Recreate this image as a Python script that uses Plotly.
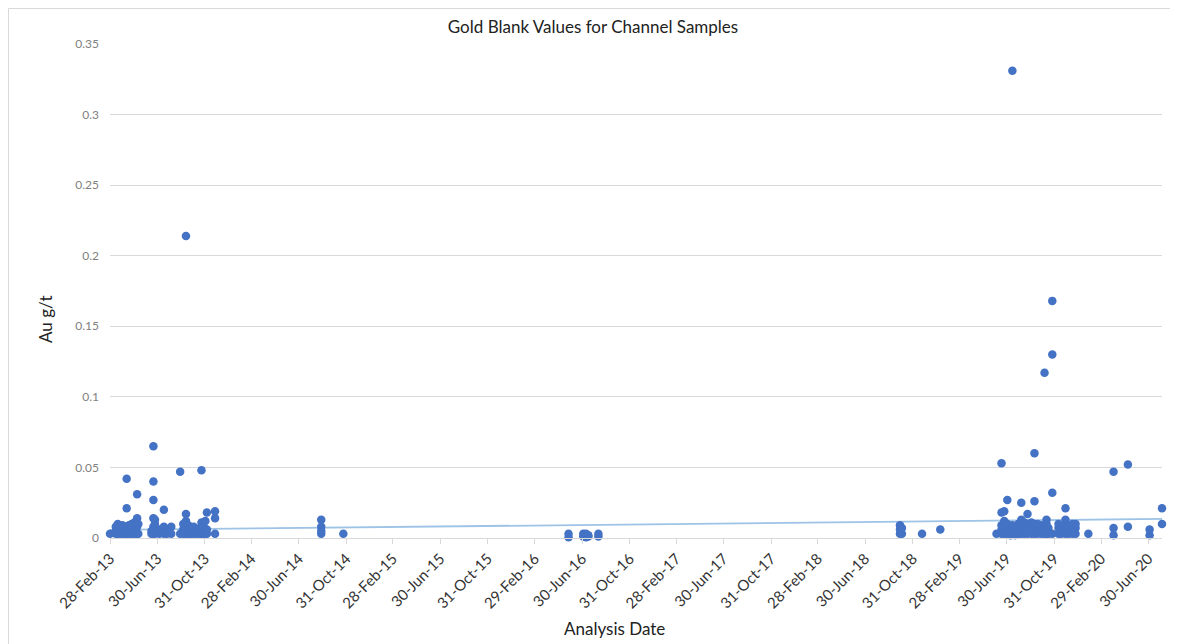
import plotly.graph_objects as go

# ---------------- data ----------------
# each date carries one or more blank assays (Au g/t)
dates_2013 = ["2013-02-28", "2013-03-15", "2013-03-20", "2013-03-25", "2013-04-01",
              "2013-04-08", "2013-04-12", "2013-04-18", "2013-04-25", "2013-05-02",
              "2013-05-09", "2013-05-12", "2013-06-15", "2013-06-20", "2013-06-24",
              "2013-07-05", "2013-07-17", "2013-07-25", "2013-08-05", "2013-08-28",
              "2013-09-05", "2013-09-12", "2013-09-18", "2013-09-25", "2013-10-02",
              "2013-10-10", "2013-10-18", "2013-10-22", "2013-10-28", "2013-11-01",
              "2013-11-05", "2013-11-26"]
values_2013 = [[0.003], [0.003, 0.005, 0.008], [0.003, 0.010], [0.003, 0.007],
               [0.003, 0.005, 0.009], [0.003, 0.006], [0.003, 0.008, 0.021, 0.042],
               [0.003, 0.005, 0.009], [0.003, 0.010], [0.003, 0.006, 0.011],
               [0.003, 0.008, 0.014, 0.031], [0.003, 0.010], [0.003, 0.005],
               [0.003, 0.008, 0.014, 0.027, 0.040, 0.065], [0.003, 0.010, 0.013],
               [0.003, 0.006], [0.003, 0.008, 0.020], [0.003, 0.005], [0.003, 0.008],
               [0.003, 0.047], [0.003, 0.006, 0.010], [0.003, 0.008, 0.012, 0.017, 0.214],
               [0.003, 0.005, 0.009], [0.003, 0.007], [0.003, 0.008], [0.003, 0.006],
               [0.003, 0.007], [0.003, 0.005, 0.011, 0.048], [0.003, 0.008],
               [0.003, 0.012], [0.003, 0.006, 0.018], [0.003, 0.014, 0.019]]

dates_2014 = ["2014-08-27", "2014-10-23"]
values_2014 = [[0.003, 0.005, 0.008, 0.013], [0.003]]

dates_2016 = ["2016-05-26", "2016-07-03", "2016-07-10", "2016-07-16", "2016-08-11"]
values_2016 = [[0.0005, 0.003], [0.001, 0.003], [0.0005, 0.003], [0.001, 0.002], [0.001, 0.003]]

dates_2018 = ["2018-09-28", "2018-10-03", "2018-11-24", "2019-01-10"]
values_2018 = [[0.003, 0.006, 0.009], [0.003, 0.007], [0.003], [0.006]]

dates_2019 = ["2019-06-04", "2019-06-17", "2019-06-24", "2019-07-02", "2019-07-10",
              "2019-07-15", "2019-07-23", "2019-07-30", "2019-08-07", "2019-08-15",
              "2019-08-23", "2019-09-02", "2019-09-10", "2019-09-18", "2019-09-28",
              "2019-10-06", "2019-10-11", "2019-10-16", "2019-10-26", "2019-11-11",
              "2019-11-18", "2019-11-29", "2019-12-07", "2019-12-17", "2019-12-25"]
values_2019 = [[0.003], [0.003, 0.006, 0.009, 0.018, 0.053], [0.003, 0.005, 0.008, 0.012, 0.019],
               [0.003, 0.006, 0.010, 0.027], [0.002, 0.004, 0.008], [0.003, 0.006, 0.009, 0.331],
               [0.002, 0.005, 0.008], [0.003, 0.007, 0.010], [0.003, 0.006, 0.010, 0.013, 0.025],
               [0.003, 0.008, 0.011], [0.003, 0.006, 0.010, 0.017], [0.003, 0.007, 0.011],
               [0.003, 0.006, 0.010, 0.026, 0.060], [0.003, 0.007, 0.010], [0.003, 0.006, 0.009],
               [0.003, 0.008, 0.117], [0.003, 0.006, 0.010, 0.013], [0.003, 0.007],
               [0.003, 0.032, 0.130, 0.168], [0.003, 0.007, 0.010], [0.003, 0.006],
               [0.003, 0.006, 0.010, 0.013, 0.021], [0.003, 0.008], [0.003, 0.006, 0.010],
               [0.003, 0.007, 0.010]]

dates_2020 = ["2020-01-27", "2020-04-01", "2020-05-08", "2020-07-03", "2020-08-04"]
values_2020 = [[0.003], [0.002, 0.007, 0.047], [0.008, 0.052], [0.002, 0.006], [0.010, 0.021]]

# linear trendline end values (as drawn in the reference)
trend_dates = ["2013-02-28", "2020-08-04"]
trend_values = [0.0057, 0.0135]

tick_dates = ["2013-02-28", "2013-06-30", "2013-10-31", "2014-02-28", "2014-06-30",
              "2014-10-31", "2015-02-28", "2015-06-30", "2015-10-31", "2016-02-29",
              "2016-06-30", "2016-10-31", "2017-02-28", "2017-06-30", "2017-10-31",
              "2018-02-28", "2018-06-30", "2018-10-31", "2019-02-28", "2019-06-30",
              "2019-10-31", "2020-02-29", "2020-06-30"]
tick_labels = ["28-Feb-13", "30-Jun-13", "31-Oct-13", "28-Feb-14", "30-Jun-14",
               "31-Oct-14", "28-Feb-15", "30-Jun-15", "31-Oct-15", "29-Feb-16",
               "30-Jun-16", "31-Oct-16", "28-Feb-17", "30-Jun-17", "31-Oct-17",
               "28-Feb-18", "30-Jun-18", "31-Oct-18", "28-Feb-19", "30-Jun-19",
               "31-Oct-19", "29-Feb-20", "30-Jun-20"]
y_ticks = [0, 0.05, 0.1, 0.15, 0.2, 0.25, 0.3, 0.35]
y_tick_labels = ["0", "0.05", "0.1", "0.15", "0.2", "0.25", "0.3", "0.35"]

# ---------------- expand ----------------
xs, ys = [], []
for dl, vl in [(dates_2013, values_2013), (dates_2014, values_2014), (dates_2016, values_2016),
               (dates_2018, values_2018), (dates_2019, values_2019), (dates_2020, values_2020)]:
    for d, vals in zip(dl, vl):
        for v in vals:
            xs.append(d)
            ys.append(v)

FONT = "Lato, 'Open Sans', sans-serif"

fig = go.Figure()
fig.add_trace(go.Scatter(x=trend_dates, y=trend_values, mode="lines",
                         line=dict(color="#9DC3E6", width=1.8), hoverinfo="skip",
                         showlegend=False))
fig.add_trace(go.Scatter(x=xs, y=ys, mode="markers",
                         marker=dict(color="#4472C4", size=8.5, line=dict(width=0)),
                         showlegend=False, cliponaxis=False))

# page body has an 8px margin -> figure is drawn 8px right/down in the window
W, H = 1170, 636
L, R, T, B = 102, 16, 36, 106
pw, ph = W - L - R, H - T - B

fig.update_layout(
    width=W, height=H,
    margin=dict(l=L, r=R, t=T, b=B, autoexpand=False),
    paper_bgcolor="white", plot_bgcolor="white",
    font=dict(family=FONT, color="#595959"),
    title=dict(text="Gold Blank Values for Channel Samples", x=0.5, xanchor="center",
               xref="container", y=1 - 19 / H, yanchor="middle",
               font=dict(size=17, color="#222222", family=FONT)),
    xaxis=dict(type="date", range=["2013-02-28", "2020-08-04"],
               tickvals=tick_dates, ticktext=tick_labels, tickangle=-45,
               tickfont=dict(size=15, color="#333333"),
               showgrid=False, zeroline=False,
               showline=True, linecolor="#D9D9D9", linewidth=1,
               ticks="outside", ticklen=5, tickcolor="#D9D9D9"),
    yaxis=dict(range=[0, 0.35], tickvals=y_ticks, ticktext=y_tick_labels,
               tickfont=dict(size=12, color="#7F7F7F"),
               showgrid=True, gridcolor="#D9D9D9", gridwidth=1,
               zeroline=False, showline=False, ticks="", ticklabelstandoff=10),
    annotations=[
        dict(text="Au g/t", xref="paper", yref="paper", x=(37 - L) / pw,
             y=(H - B - 311) / ph, textangle=-90, showarrow=False,
             xanchor="center", yanchor="middle",
             font=dict(size=17, color="#222222", family=FONT)),
        dict(text="Analysis Date", xref="paper", yref="paper", x=(606 - L) / pw,
             y=(H - B - 620) / ph, showarrow=False, xanchor="center", yanchor="middle",
             font=dict(size=17, color="#222222", family=FONT)),
    ],
    shapes=[dict(type="rect", xref="paper", yref="paper",
                 x0=(0.5 - L) / pw, x1=(1166 - L) / pw,
                 y0=(H - B - 640) / ph, y1=(H - B - 0.5) / ph,
                 line=dict(color="#D9D9D9", width=1), layer="below")],
)

fig.write_html("out.html")
